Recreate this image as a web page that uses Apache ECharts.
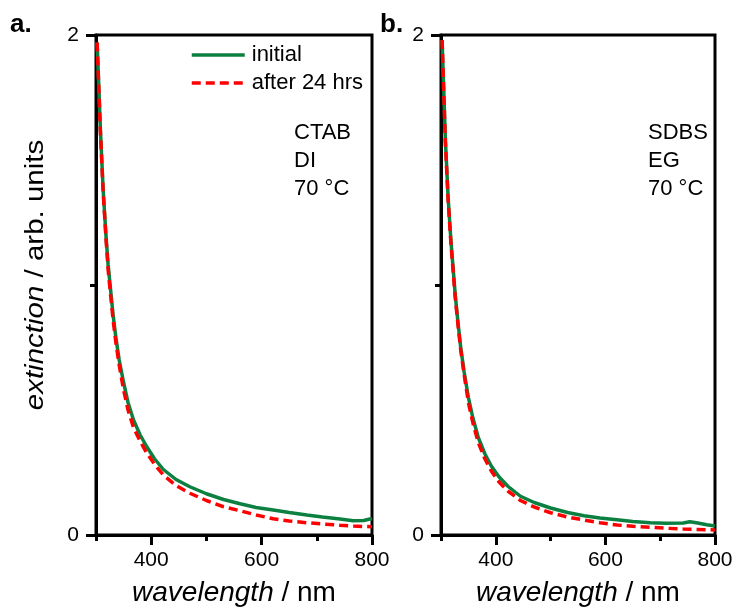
<!DOCTYPE html>
<html>
<head>
<meta charset="utf-8">
<script src="https://cdn.jsdelivr.net/npm/echarts@6/dist/echarts.min.js"></script>
<style>
  html, body { margin: 0; padding: 0; background: #fff; }
  #chart { width: 736px; height: 612px; }
</style>
</head>
<body>
<div id="chart"></div>
<script>
// panel a: CTAB / DI / 70 °C
let wlA = [302, 305, 308, 313, 318, 322, 326, 331, 336, 342, 350, 358, 368, 380, 392, 406, 422, 445, 470, 500, 531, 561, 590, 621, 650, 682, 710, 742, 766, 785, 800];
let initialA = [1.97, 1.80, 1.62, 1.38, 1.20, 1.08, 0.99, 0.88, 0.79, 0.70, 0.61, 0.53, 0.46, 0.40, 0.353, 0.305, 0.262, 0.222, 0.193, 0.165, 0.142, 0.125, 0.110, 0.100, 0.090, 0.080, 0.072, 0.064, 0.057, 0.058, 0.066];
let afterA = [1.97, 1.79, 1.61, 1.37, 1.19, 1.06, 0.97, 0.86, 0.77, 0.68, 0.58, 0.50, 0.43, 0.375, 0.328, 0.283, 0.240, 0.198, 0.167, 0.138, 0.113, 0.097, 0.080, 0.065, 0.056, 0.049, 0.044, 0.039, 0.036, 0.034, 0.033];

// panel b: SDBS / EG / 70 °C
let wlB = [302, 305, 308, 313, 318, 322, 326, 331, 336, 342, 350, 358, 368, 380, 392, 406, 422, 445, 470, 500, 531, 561, 590, 621, 650, 682, 710, 742, 754, 766, 785, 800];
let initialB = [1.98, 1.78, 1.58, 1.35, 1.18, 1.07, 0.96, 0.85, 0.75, 0.655, 0.55, 0.47, 0.39, 0.325, 0.275, 0.232, 0.195, 0.155, 0.130, 0.108, 0.090, 0.077, 0.068, 0.061, 0.054, 0.049, 0.047, 0.048, 0.053, 0.049, 0.041, 0.036];
let afterB = [1.98, 1.77, 1.57, 1.34, 1.17, 1.06, 0.95, 0.84, 0.74, 0.645, 0.53, 0.45, 0.37, 0.305, 0.255, 0.212, 0.176, 0.138, 0.112, 0.089, 0.072, 0.060, 0.049, 0.040, 0.035, 0.031, 0.027, 0.024, 0.023, 0.022, 0.021, 0.020];

let xMajor = [400, 600, 800];
let xMinor = [300, 500, 700];
let yMajor = [0, 2];
let yMinor = [1];
let seriesNames = ['initial', 'after 24 hrs'];
let notesA = ['CTAB', 'DI', '70 \u00B0C'];
let notesB = ['SDBS', 'EG', '70 \u00B0C'];

const FONT = '"Liberation Sans", Arial, sans-serif';
const GREEN = '#0b8040';
const RED = '#ff0000';

let pairs = (xs, ys) => xs.map((x, i) => [x, ys[i]]);

let myChart = echarts.init(document.getElementById('chart'));

let xAxisMajor = (gi) => ({
    type: 'value', gridIndex: gi, min: 300, max: 800, position: 'bottom',
    splitLine: { show: false },
    axisLine: { show: true, lineStyle: { color: '#000', width: 3 } },
    axisTick: { show: true, customValues: xMajor, length: 10, inside: false, lineStyle: { color: '#000', width: 3 } },
    axisLabel: { show: true, customValues: xMajor, margin: 15, color: '#000', fontSize: 21, fontFamily: FONT },
    name: '{i|wavelength} / nm', nameLocation: 'middle', nameGap: 44,
    nameTextStyle: {
        color: '#000', fontSize: 28, fontFamily: FONT,
        rich: { i: { fontStyle: 'italic', fontSize: 28, fontFamily: FONT, color: '#000' } }
    }
});
let xAxisMinor = (gi) => ({
    type: 'value', gridIndex: gi, min: 300, max: 800, position: 'bottom',
    splitLine: { show: false },
    axisLine: { show: false },
    axisTick: { show: true, customValues: xMinor, length: 6, lineStyle: { color: '#000', width: 3 } },
    axisLabel: { show: false }
});
let yAxisMajor = (gi) => ({
    type: 'value', gridIndex: gi, min: 0, max: 2, position: 'left',
    splitLine: { show: false },
    axisLine: { show: true, lineStyle: { color: '#000', width: 3 } },
    axisTick: { show: true, customValues: yMajor, length: 10, lineStyle: { color: '#000', width: 3 } },
    axisLabel: { show: true, customValues: yMajor, margin: 17, color: '#000', fontSize: 21, fontFamily: FONT }
});
let yAxisMinor = (gi) => ({
    type: 'value', gridIndex: gi, min: 0, max: 2, position: 'left',
    splitLine: { show: false },
    axisLine: { show: false },
    axisTick: { show: true, customValues: yMinor, length: 6, lineStyle: { color: '#000', width: 3 } },
    axisLabel: { show: false }
});

let lineSeries = (name, gi, data, color, dashed) => ({
    name: name, type: 'line',
    xAxisIndex: gi * 2, yAxisIndex: gi * 2,
    data: data, showSymbol: false, symbol: 'none', clip: true,
    smooth: false, animation: false,
    lineStyle: { color: color, width: 3.5, type: dashed ? [9, 5] : 'solid' },
    itemStyle: { color: color }
});

let noteTexts = (notes, x) => notes.map((t, i) => ({
    type: 'text', left: x, top: 122 + i * 28,
    style: { text: t, fontSize: 22, fontFamily: FONT, fill: '#000' }
}));

let option = {
    backgroundColor: '#fff',
    animation: false,
    grid: [
        { left: 96, top: 35, width: 276, height: 500, show: true, borderColor: '#000', borderWidth: 3, backgroundColor: 'transparent' },
        { left: 441, top: 35, width: 274, height: 500, show: true, borderColor: '#000', borderWidth: 3, backgroundColor: 'transparent' }
    ],
    xAxis: [xAxisMajor(0), xAxisMinor(0), xAxisMajor(1), xAxisMinor(1)],
    yAxis: [yAxisMajor(0), yAxisMinor(0), yAxisMajor(1), yAxisMinor(1)],
    legend: {
        data: seriesNames, orient: 'vertical', left: 190, top: 44, padding: 0,
        itemWidth: 53, itemHeight: 22, itemGap: 6,
        itemStyle: { opacity: 0 },
        lineStyle: { width: 3.5 },
        textStyle: { color: '#000', fontSize: 22, fontFamily: FONT, lineHeight: 22, padding: [0, 0, 0, 2] },
        selectedMode: false
    },
    series: [
        lineSeries(seriesNames[0], 0, pairs(wlA, initialA), GREEN, false),
        lineSeries(seriesNames[1], 0, pairs(wlA, afterA), RED, true),
        lineSeries(seriesNames[0], 1, pairs(wlB, initialB), GREEN, false),
        lineSeries(seriesNames[1], 1, pairs(wlB, afterB), RED, true)
    ],
    graphic: [
        { type: 'text', left: 10, top: 12, style: { text: 'a.', fontSize: 26, fontWeight: 'bold', fontFamily: FONT, fill: '#000' } },
        { type: 'text', left: 380, top: 12, style: { text: 'b.', fontSize: 26, fontWeight: 'bold', fontFamily: FONT, fill: '#000' } },
        {
            type: 'text', x: 36, y: 275, rotation: Math.PI / 2, scaleX: 1.18,
            style: {
                text: '{i|extinction} / arb. units', fontSize: 25, fontFamily: FONT, fill: '#000',
                align: 'center', verticalAlign: 'middle',
                rich: { i: { fontStyle: 'italic', fontSize: 25, fontFamily: FONT, fill: '#000' } }
            }
        }
    ].concat(noteTexts(notesA, 294)).concat(noteTexts(notesB, 648))
};

myChart.setOption(option);
</script>
</body>
</html>
